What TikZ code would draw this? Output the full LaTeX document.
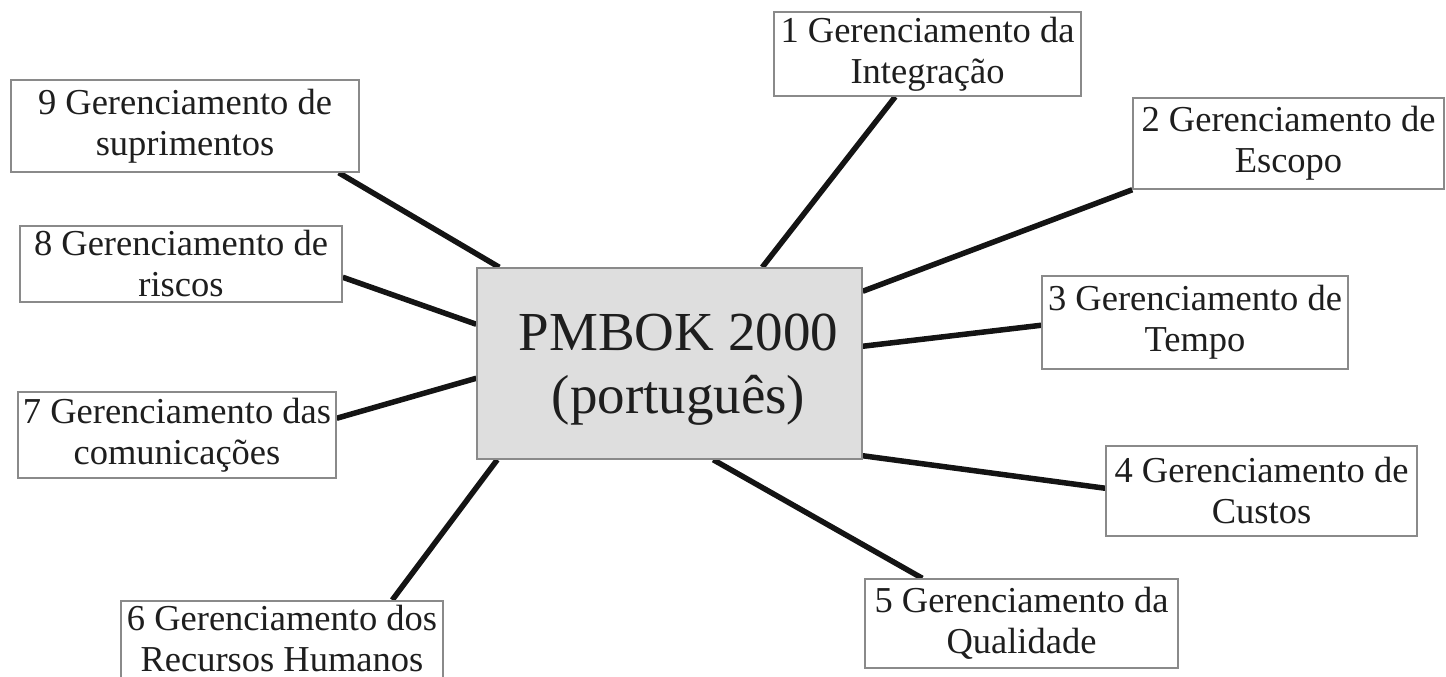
\documentclass[tikz,border=0pt]{standalone}
\usepackage{fontspec}
\setmainfont{Liberation Serif}
\usetikzlibrary{backgrounds}
\definecolor{txt}{HTML}{1E1E1E}
\definecolor{lnk}{HTML}{141414}
\definecolor{bord}{HTML}{8A8A8A}
\definecolor{cfill}{HTML}{DEDEDE}
\tikzset{
  topic/.style={draw=bord, line width=1.5pt, fill=white, text=txt, align=center,
    inner sep=0pt, font=\fontsize{36.5}{41}\selectfont},
  core/.style={draw=bord, line width=1.5pt, fill=cfill, text=txt, align=center,
    inner sep=0pt, font=\fontsize{55}{63}\selectfont},
  link/.style={line width=5.5pt, draw=lnk}
}
\begin{document}
\begin{tikzpicture}[x=1pt,y=-1pt]
\useasboundingbox (0,0) rectangle (1446,677);
\node[core, minimum width=385pt, minimum height=191pt, text depth=0pt] (c) at (669.5,363.5) {\hspace*{18pt}PMBOK 2000\\\hspace*{18pt}(português)};
\node[topic, minimum width=307pt, minimum height=84pt] (b1) at (927.5,54) {1 Gerenciamento da\\Integração};
\node[topic, minimum width=311pt, minimum height=91pt] (b2) at (1288.5,143.5) {2 Gerenciamento de\\Escopo};
\node[topic, minimum width=306pt, minimum height=93pt] (b3) at (1195,322.5) {3 Gerenciamento de\\Tempo};
\node[topic, minimum width=311pt, minimum height=90pt] (b4) at (1261.5,491) {4 Gerenciamento de\\Custos};
\node[topic, minimum width=313pt, minimum height=89pt] (b5) at (1021.5,623.5) {5 Gerenciamento da\\Qualidade};
\node[topic, minimum width=322pt, minimum height=90pt, text depth=14pt, anchor=north] (b6) at (282,600) {6 Gerenciamento dos\\Recursos Humanos};
\node[topic, minimum width=318pt, minimum height=86pt] (b7) at (177,435) {7 Gerenciamento das\\comunicações};
\node[topic, minimum width=322pt, minimum height=76pt] (b8) at (181,264) {8 Gerenciamento de\\riscos};
\node[topic, minimum width=348pt, minimum height=92pt] (b9) at (185,126) {9 Gerenciamento de\\suprimentos};
\begin{pgfonlayer}{background}
\draw[link] ([xshift=286pt]c.north west) -- ([xshift=122pt]b1.south west);
\draw[link] ([yshift=-24pt]c.north east) -- (b2.south west);
\draw[link] ([yshift=-79pt]c.north east) -- ([yshift=-50pt]b3.north west);
\draw[link] ([yshift=4pt]c.south east) -- ([yshift=-43pt]b4.north west);
\draw[link] ([xshift=237pt]c.south west) -- ([xshift=58pt]b5.north west);
\draw[link] ([xshift=21pt]c.south west) -- ([xshift=272pt]b6.north west);
\draw[link] ([yshift=-111pt]c.north west) -- ([yshift=-27pt]b7.north east);
\draw[link] ([yshift=-57pt]c.north west) -- ([yshift=-52pt]b8.north east);
\draw[link] ([xshift=23pt]c.north west) -- ([xshift=-21pt]b9.south east);
\end{pgfonlayer}
\end{tikzpicture}
\end{document}
